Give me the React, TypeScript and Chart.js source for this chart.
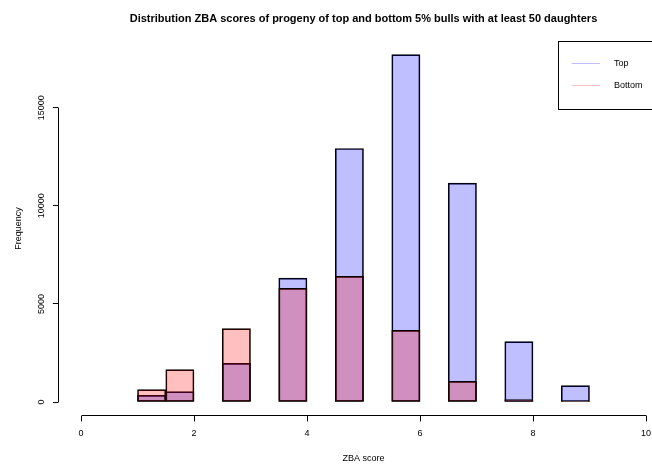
import React, { useEffect, useRef } from "react";
import { Chart, registerables } from "chart.js";

Chart.register(...registerables);

// ---- data ----
const binCenters = [1.25, 1.75, 2.75, 3.75, 4.75, 5.75, 6.75, 7.75, 8.75];
const topCounts = [341, 530, 1970, 6314, 12917, 17704, 11151, 3075, 835];
const bottomCounts = [631, 1650, 3737, 5789, 6400, 3650, 1054, 122, 30];
const xTicks = [0, 2, 4, 6, 8, 10];
const yTicks = [0, 5000, 10000, 15000];
const seriesLabels = ["Top", "Bottom"];
const seriesColors = ["rgba(0,0,255,0.25)", "rgba(255,0,0,0.25)"];
const chartTitle =
  "Distribution ZBA scores of progeny of top and bottom 5% bulls with at least 50 daughters";
const xTitle = "ZBA score";
const yTitle = "Frequency";

const FONT = "'Liberation Sans', Arial, Helvetica, sans-serif";
const X_MIN = -0.4;
const X_MAX = 10.4;
const Y_MIN = -707;
const Y_MAX = 18387;

const CANVAS_W = 727;
const CANVAS_H = 466;

function align(p: number) {
  return Math.round(p - 0.5) + 0.5;
}

const rStylePlugin = {
  id: "rStyle",
  afterDraw(chart: any) {
    const ctx = chart.ctx;
    const { left, top, bottom, right } = chart.chartArea;
    const xs = chart.scales.x;
    const ys = chart.scales.y;
    ctx.save();
    ctx.strokeStyle = "#000";
    ctx.lineWidth = 1;
    // x axis line (spans first to last tick, like R)
    const yb = align(bottom);
    ctx.beginPath();
    ctx.moveTo(align(xs.getPixelForValue(xTicks[0])), yb);
    ctx.lineTo(align(xs.getPixelForValue(xTicks[xTicks.length - 1])), yb);
    ctx.stroke();
    // y axis line
    const xl = align(left);
    ctx.beginPath();
    ctx.moveTo(xl, align(ys.getPixelForValue(yTicks[0])));
    ctx.lineTo(xl, align(ys.getPixelForValue(yTicks[yTicks.length - 1])));
    ctx.stroke();

    // legend (top-right of plot region)
    const lw = 110.6;
    const lh = 67.8;
    const lx = right - lw;
    const ly = top;
    ctx.strokeRect(align(lx), align(ly), Math.round(lw), Math.round(lh));
    ctx.font = `9px ${FONT}`;
    ctx.textBaseline = "middle";
    ctx.textAlign = "left";
    chart.data.datasets.forEach((ds: any, i: number) => {
      const yy = ly + 22.1 + i * 22.4;
      ctx.strokeStyle = ds.backgroundColor;
      ctx.beginPath();
      ctx.moveTo(lx + 13.7, align(yy));
      ctx.lineTo(lx + 42, align(yy));
      ctx.stroke();
      ctx.fillStyle = "#000";
      ctx.fillText(ds.label, lx + 56, yy);
    });
    ctx.restore();
  },
};

export default function App() {
  const ref = useRef<HTMLCanvasElement | null>(null);

  useEffect(() => {
    if (!ref.current) return;
    const makeData = (vals: number[]) =>
      binCenters.map((x, i) => ({ x, y: vals[i] }));
    const common = {
      borderColor: "#000",
      borderWidth: 1,
      borderSkipped: false,
      barPercentage: 1,
      categoryPercentage: 1,
      grouped: false,
    };
    const chart = new Chart(ref.current, {
      type: "bar",
      data: {
        datasets: [
          {
            ...common,
            label: seriesLabels[0],
            data: makeData(topCounts),
            backgroundColor: seriesColors[0],
            order: 1,
          },
          {
            ...common,
            label: seriesLabels[1],
            data: makeData(bottomCounts),
            backgroundColor: seriesColors[1],
            order: 0,
          },
        ] as any,
      },
      options: {
        animation: false,
        responsive: false,
        devicePixelRatio: 1,
        layout: { padding: { left: 0, right: 58.4, top: 0, bottom: 0 } },
        plugins: {
          legend: { display: false },
          tooltip: { enabled: false },
          title: {
            display: true,
            fullSize: false,
            text: chartTitle,
            color: "#000",
            font: { family: FONT, size: 11, weight: "bold" },
            padding: { top: 11.9, bottom: 16.1 },
          },
        },
        scales: {
          x: {
            type: "linear",
            min: X_MIN,
            max: X_MAX,
            offset: false,
            afterBuildTicks: (s: any) => {
              s.ticks = xTicks.map((v) => ({ value: v }));
            },
            afterFit: (s: any) => {
              s.height = 50.1;
            },
            grid: {
              display: true,
              drawOnChartArea: false,
              drawTicks: true,
              tickLength: 5.5,
              color: "#000",
              offset: false,
            },
            border: { display: false },
            ticks: {
              autoSkip: false,
              maxRotation: 0,
              minRotation: 0,
              color: "#000",
              padding: 7,
              font: { family: FONT, size: 9 },
              callback: (v: any) => String(v),
            },
            title: {
              display: true,
              text: xTitle,
              color: "#000",
              font: { family: FONT, size: 9 },
              padding: { top: 0, bottom: 1.6 },
            },
          },
          y: {
            type: "linear",
            min: Y_MIN,
            max: Y_MAX,
            afterBuildTicks: (s: any) => {
              s.ticks = yTicks.map((v) => ({ value: v }));
            },
            afterFit: (s: any) => {
              s.width = 58.4;
            },
            grid: {
              display: true,
              drawOnChartArea: false,
              drawTicks: true,
              tickLength: 5.5,
              color: "#000",
            },
            border: { display: false },
            ticks: {
              autoSkip: false,
              minRotation: 90,
              maxRotation: 90,
              crossAlign: "center",
              padding: -1.3,
              color: "#000",
              font: { family: FONT, size: 9 },
              callback: (v: any) => String(v),
            },
            title: {
              display: true,
              text: yTitle,
              color: "#000",
              font: { family: FONT, size: 9 },
              padding: { top: 13.2, bottom: 0 },
            },
          },
        },
      } as any,
      plugins: [rStylePlugin],
    });
    return () => chart.destroy();
  }, []);

  return (
    <div
      style={{
        position: "fixed",
        left: 0,
        top: 0,
        width: 652,
        height: 466,
        overflow: "hidden",
        background: "#fff",
      }}
    >
      <canvas
        ref={ref}
        width={CANVAS_W}
        height={CANVAS_H}
        style={{ display: "block", width: CANVAS_W, height: CANVAS_H }}
      />
    </div>
  );
}
